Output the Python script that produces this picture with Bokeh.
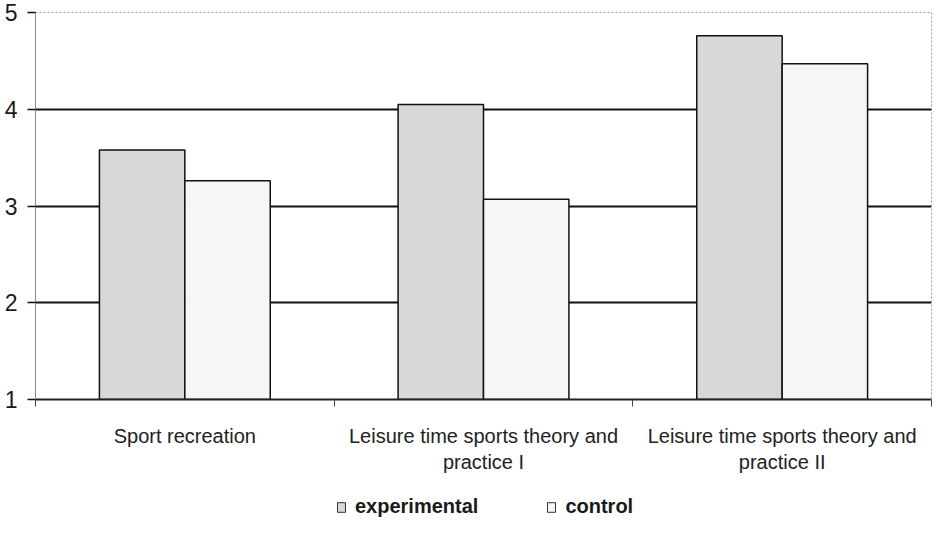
from bokeh.plotting import figure
from bokeh.layouts import column
from bokeh.models import FixedTicker, Range1d, Legend, LegendItem
from bokeh.embed import file_html
from bokeh.resources import INLINE

categories = ["Sport recreation",
              "Leisure time sports theory and\npractice I",
              "Leisure time sports theory and\npractice II"]
experimental = [3.58, 4.05, 4.76]
control = [3.26, 3.07, 4.47]
series = ["experimental", "control"]
y_ticks = [1, 2, 3, 4, 5]

FONT = "Liberation Sans"
n = len(categories)
centers = [i + 0.5 for i in range(n)]
bar_w = 0.286
off = 0.143
EXP_FILL = "#d8d8d8"
CTL_FILL = "#f6f6f6"
EDGE = "#111111"

p = figure(width=933, height=482, output_backend="svg", toolbar_location=None,
           x_range=Range1d(0, n), y_range=Range1d(y_ticks[0], y_ticks[-1]),
           min_border_left=35, min_border_top=12, min_border_right=2, min_border_bottom=83,
           background_fill_color="white", border_fill_color="white")

p.vbar(x=[c - off for c in centers], top=experimental, bottom=y_ticks[0], width=bar_w,
       fill_color=EXP_FILL, line_color=EDGE, line_width=1.5)
p.vbar(x=[c + off for c in centers], top=control, bottom=y_ticks[0], width=bar_w,
       fill_color=CTL_FILL, line_color=EDGE, line_width=1.5)

# frame
p.outline_line_color = "#9a9a9a"
p.outline_line_dash = "2 2"
p.outline_line_width = 1

# grid
p.xgrid.grid_line_color = None
p.ygrid.ticker = FixedTicker(ticks=y_ticks[1:-1])
p.ygrid.grid_line_color = "#111111"
p.ygrid.grid_line_width = 2

# y axis
p.yaxis.ticker = FixedTicker(ticks=y_ticks)
p.yaxis.axis_line_color = "#8a8a8a"
p.yaxis.axis_line_width = 1
p.yaxis.major_tick_in = 0
p.yaxis.major_tick_out = 8
p.yaxis.major_tick_line_color = "#111111"
p.yaxis.major_tick_line_width = 1.5
p.yaxis.minor_tick_line_color = None
p.yaxis.major_label_standoff = 10
p.yaxis.major_label_text_font = FONT
p.yaxis.major_label_text_font_size = "23px"
p.yaxis.major_label_text_color = "#1a1a1a"

# x axis
p.xaxis.ticker = FixedTicker(ticks=centers, minor_ticks=list(range(n + 1)))
p.xaxis.major_label_overrides = {c: lab for c, lab in zip(centers, categories)}
p.xaxis.axis_line_color = "#222222"
p.xaxis.axis_line_width = 2
p.xaxis.major_tick_line_color = None
p.xaxis.major_tick_in = 0
p.xaxis.major_tick_out = 0
p.xaxis.minor_tick_in = 0
p.xaxis.minor_tick_out = 7
p.xaxis.minor_tick_line_color = "#444444"
p.xaxis.minor_tick_line_width = 1
p.xaxis.major_label_standoff = 18
p.xaxis.major_label_text_font = FONT
p.xaxis.major_label_text_font_size = "20px"
p.xaxis.major_label_text_color = "#222222"

# legend strip (proxy renderers sit outside the visible range)
pl = figure(width=933, height=36, output_backend="svg", toolbar_location=None,
            x_range=Range1d(0, 1), y_range=Range1d(0, 1),
            x_axis_location=None, y_axis_location=None, min_border=0,
            background_fill_color="white", border_fill_color="white")
pl.outline_line_color = None
pl.grid.visible = False
l1 = pl.vbar(x=[-5], top=[-5], bottom=-6, width=0.1,
             fill_color=EXP_FILL, line_color="#333333", line_width=1)
l2 = pl.vbar(x=[-5], top=[-5], bottom=-6, width=0.1,
             fill_color=CTL_FILL, line_color="#333333", line_width=1)
legend = Legend(items=[LegendItem(label=series[0], renderers=[l1]),
                       LegendItem(label=series[1], renderers=[l2])],
                orientation="horizontal", location=(301, 0),
                glyph_width=10, glyph_height=12, label_standoff=9, spacing=68,
                border_line_color=None, background_fill_alpha=0,
                padding=0, margin=0,
                label_text_font=FONT, label_text_font_style="bold",
                label_text_font_size="20px", label_text_color="#1a1a1a")
pl.add_layout(legend, "center")

layout = column(p, pl, spacing=0)
open("out.html", "w").write(file_html(layout, INLINE))
